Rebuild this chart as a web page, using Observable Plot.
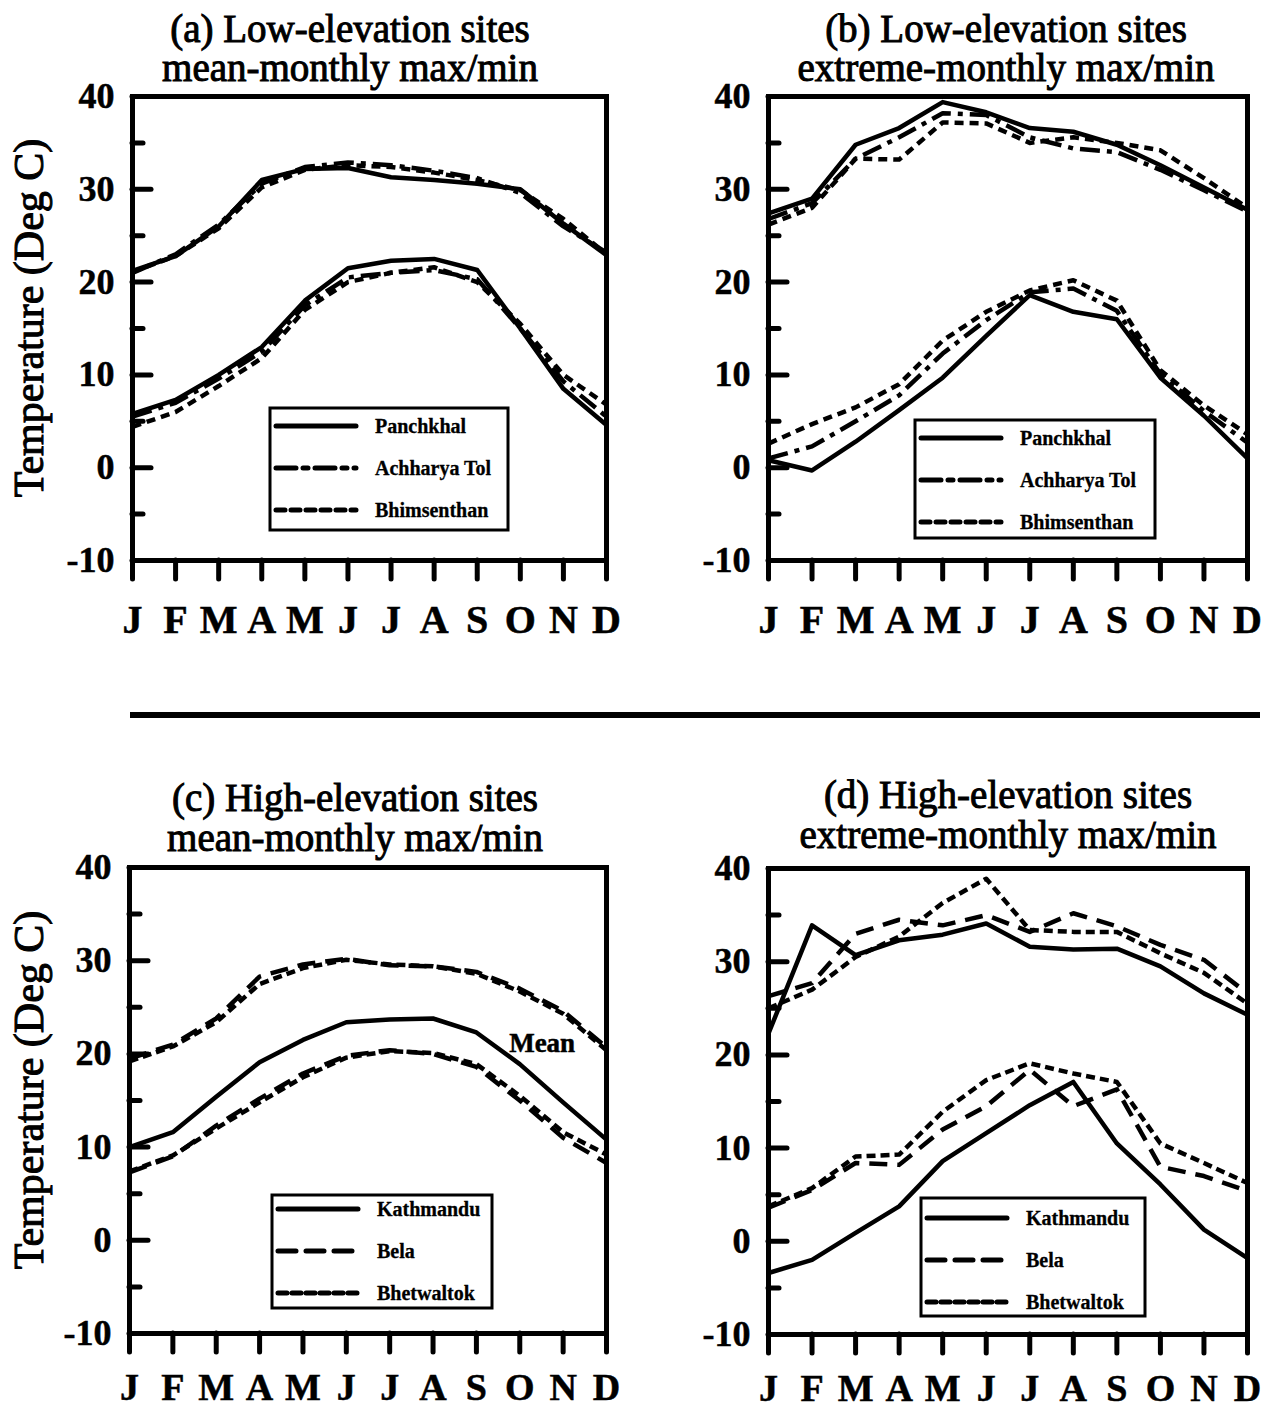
<!DOCTYPE html>
<html>
<head>
<meta charset="utf-8">
<script src="https://cdn.jsdelivr.net/npm/d3@7"></script>
<script src="https://cdn.jsdelivr.net/npm/@observablehq/plot@0.6"></script>
<style>
  html, body { margin: 0; padding: 0; background: #fff; overflow: hidden; }
  #page { position: relative; width: 1266px; height: 1410px; background: #fff;
          font-family: "Liberation Serif", "Times New Roman", serif; }
  .panel { position: absolute; }
  .panel svg { overflow: visible; background: transparent; }
  #page text { stroke: #000; stroke-width: 0.5px; }
  #overlay { position: absolute; left: 0; top: 0; pointer-events: none; }
  #overlay text.title { stroke-width: 1px; }
</style>
</head>
<body>
<div id="page"></div>
<script>
// Month initials along the x axis (index 0 = January)
const months = ["J", "F", "M", "A", "M", "J", "J", "A", "S", "O", "N", "D"];
const yTicksMinor = [-5, 5, 15, 25, 35];
const yTicksMajor = [-10, 0, 10, 20, 30, 40];

// (a) Low-elevation sites, mean-monthly max / min (deg C)
const panchkhalMeanMax   = [21.2, 22.8, 26.0, 31.0, 32.2, 32.3, 31.3, 31.0, 30.6, 30.0, 26.3, 22.9];
const achharyaMeanMax    = [21.0, 23.0, 26.2, 30.6, 32.4, 32.9, 32.6, 32.0, 31.2, 29.6, 26.0, 23.2];
const bhimsenthanMeanMax = [21.1, 22.8, 25.8, 30.2, 32.1, 32.6, 32.4, 31.8, 31.0, 29.9, 26.8, 23.0];
const panchkhalMeanMin   = [5.8, 7.3, 10.0, 13.0, 18.0, 21.5, 22.3, 22.5, 21.3, 15.0, 8.5, 4.6];
const achharyaMeanMin    = [5.5, 7.0, 9.6, 12.5, 17.5, 20.5, 21.0, 21.3, 20.3, 15.0, 9.3, 5.5];
const bhimsenthanMeanMin = [4.4, 6.0, 8.8, 11.8, 17.0, 20.0, 21.0, 21.6, 20.0, 15.5, 10.0, 6.8];

// (b) Low-elevation sites, extreme-monthly max / min (deg C)
const panchkhalExtMax   = [27.4, 29.0, 34.8, 36.6, 39.4, 38.3, 36.6, 36.2, 34.8, 32.6, 30.2, 27.8];
const achharyaExtMax    = [26.8, 28.5, 33.3, 35.6, 38.2, 38.0, 35.6, 34.4, 34.0, 32.1, 29.9, 27.6];
const bhimsenthanExtMax = [26.2, 28.0, 33.3, 33.2, 37.2, 37.1, 35.0, 35.6, 35.0, 34.2, 31.2, 28.0];
const panchkhalExtMin   = [0.8, -0.3, 2.8, 6.2, 9.7, 14.2, 18.6, 16.8, 16.0, 9.7, 5.6, 1.0];
const achharyaExtMin    = [1.0, 2.3, 5.0, 7.8, 12.3, 15.9, 18.9, 19.3, 16.9, 10.1, 6.1, 2.7];
const bhimsenthanExtMin = [2.6, 4.7, 6.5, 9.0, 13.7, 16.8, 19.1, 20.2, 18.0, 10.5, 6.7, 3.6];

// (c) High-elevation sites, mean-monthly max / min (deg C); Kathmandu as a monthly mean
const kathmanduMean     = [10.0, 11.6, 15.4, 19.1, 21.5, 23.4, 23.7, 23.8, 22.3, 18.9, 14.8, 10.8];
const belaMeanMax       = [19.5, 21.0, 23.8, 28.3, 29.6, 30.2, 29.5, 29.4, 28.8, 27.0, 24.6, 20.7];
const bhetwaltokMeanMax = [19.2, 20.8, 23.4, 27.5, 29.2, 30.1, 29.6, 29.4, 28.6, 26.7, 24.3, 20.4];
const belaMeanMin       = [7.3, 9.0, 12.3, 15.2, 17.9, 19.8, 20.4, 20.0, 18.6, 15.0, 11.0, 8.3];
const bhetwaltokMeanMin = [7.4, 9.1, 12.0, 14.8, 17.5, 19.6, 20.3, 20.1, 18.9, 15.5, 11.6, 9.2];

// (d) High-elevation sites, extreme-monthly max / min (deg C)
const kathmanduExtMax  = [22.3, 33.9, 30.7, 32.3, 32.9, 34.1, 31.6, 31.3, 31.4, 29.5, 26.6, 24.3];
const belaExtMax       = [26.3, 27.7, 33.0, 34.5, 33.9, 35.0, 33.2, 35.2, 33.8, 31.8, 30.2, 26.6];
const bhetwaltokExtMax = [25.0, 27.0, 30.5, 32.7, 36.3, 38.9, 33.4, 33.2, 33.2, 30.9, 28.8, 25.5];
const kathmanduExtMin  = [-3.4, -2.0, 0.9, 3.75, 8.6, 11.6, 14.6, 17.1, 10.5, 6.1, 1.25, -1.8];
const belaExtMin       = [3.6, 5.5, 8.4, 8.2, 12.0, 14.5, 18.4, 14.5, 16.3, 8.0, 7.0, 5.4];
const bhetwaltokExtMin = [3.75, 5.7, 9.1, 9.3, 13.9, 17.3, 19.1, 18.0, 17.1, 10.5, 8.4, 6.25];

// Line styles per site
const lowSites  = ["Panchkhal", "Achharya Tol", "Bhimsenthan"];
const highSites = ["Kathmandu", "Bela", "Bhetwaltok"];
const dashes = {
  "Panchkhal": null, "Achharya Tol": "20,7,5,7", "Bhimsenthan": "9,6",
  "Kathmandu": null, "Bela": "18,10", "Bhetwaltok": "9,5"
};

const panels = [
  {
    title: ["(a) Low-elevation sites", "mean-monthly max/min"], titleX: 350, titleY: [42, 81],
    frame: {left: 132, right: 606, top: 96, bottom: 560}, yLabel: true, monthPad: 44, monthSize: 40,
    series: [
      {site: "Achharya Tol", values: achharyaMeanMax}, {site: "Bhimsenthan", values: bhimsenthanMeanMax},
      {site: "Panchkhal", values: panchkhalMeanMax},
      {site: "Achharya Tol", values: achharyaMeanMin}, {site: "Bhimsenthan", values: bhimsenthanMeanMin},
      {site: "Panchkhal", values: panchkhalMeanMin}
    ],
    legend: {sites: lowSites, x: 270, y: 408, w: 238, h: 122, first: 18}
  },
  {
    title: ["(b) Low-elevation sites", "extreme-monthly max/min"], titleX: 1006, titleY: [42, 81],
    frame: {left: 768, right: 1247, top: 96, bottom: 560}, yLabel: false, monthPad: 44, monthSize: 40,
    series: [
      {site: "Achharya Tol", values: achharyaExtMax}, {site: "Bhimsenthan", values: bhimsenthanExtMax},
      {site: "Panchkhal", values: panchkhalExtMax},
      {site: "Achharya Tol", values: achharyaExtMin}, {site: "Bhimsenthan", values: bhimsenthanExtMin},
      {site: "Panchkhal", values: panchkhalExtMin}
    ],
    legend: {sites: lowSites, x: 915, y: 420, w: 240, h: 118, first: 18}
  },
  {
    title: ["(c) High-elevation sites", "mean-monthly max/min"], titleX: 355, titleY: [811, 851],
    frame: {left: 129, right: 606, top: 867, bottom: 1333}, yLabel: true, monthPad: 40, monthSize: 38,
    series: [
      {site: "Bela", values: belaMeanMax}, {site: "Bhetwaltok", values: bhetwaltokMeanMax},
      {site: "Bela", values: belaMeanMin}, {site: "Bhetwaltok", values: bhetwaltokMeanMin},
      {site: "Kathmandu", values: kathmanduMean, note: "Mean"}
    ],
    legend: {sites: highSites, x: 272, y: 1195, w: 220, h: 113, first: 14}
  },
  {
    title: ["(d) High-elevation sites", "extreme-monthly max/min"], titleX: 1008, titleY: [808, 848],
    frame: {left: 768, right: 1247, top: 868, bottom: 1334}, yLabel: false, monthPad: 40, monthSize: 38,
    series: [
      {site: "Bela", values: belaExtMax}, {site: "Bhetwaltok", values: bhetwaltokExtMax},
      {site: "Kathmandu", values: kathmanduExtMax},
      {site: "Bela", values: belaExtMin}, {site: "Bhetwaltok", values: bhetwaltokExtMin},
      {site: "Kathmandu", values: kathmanduExtMin}
    ],
    legend: {sites: highSites, x: 921, y: 1198, w: 224, h: 118, first: 20}
  }
];

const page = document.getElementById("page");
const M = {left: 120, right: 16, top: 20, bottom: 75};

for (const p of panels) {
  const fw = p.frame.right - p.frame.left;
  const fh = p.frame.bottom - p.frame.top;
  const marks = [];
  for (const s of p.series) {
    marks.push(Plot.line(s.values, {
      x: (d, i) => i, y: d => d,
      stroke: "black", strokeWidth: 4.5, strokeDasharray: dashes[s.site],
      strokeLinejoin: "round", strokeLinecap: "butt"
    }));
    if (s.note) {
      marks.push(Plot.text(s.values, {
        filter: (d, i) => i === 10, x: (d, i) => i, y: d => d, text: () => s.note,
        dx: -21, dy: -59, fontSize: 27, fontWeight: "bold", fill: "black"
      }));
    }
  }
  marks.push(
    Plot.axisY(yTicksMinor, {tickSize: -11, strokeWidth: 5, strokeLinecap: "round", text: null, label: null}),
    Plot.axisY(yTicksMajor, {tickSize: -19, strokeWidth: 5, strokeLinecap: "round", text: null, label: null}),
    Plot.axisY(yTicksMajor, {tickSize: 0, tickPadding: 18, fontSize: 36, fontWeight: "bold",
                             tickFormat: d => String(d), label: null}),
    Plot.axisX(d3.range(12), {tickSize: 19, strokeWidth: 5, strokeLinecap: "round", text: null, label: null}),
    Plot.axisX(d3.range(12), {tickSize: 0, tickPadding: p.monthPad, fontSize: p.monthSize, fontWeight: "bold",
                              tickFormat: i => months[i], label: null}),
    Plot.frame({stroke: "black", strokeWidth: 5})
  );
  const chart = Plot.plot({
    width: fw + M.left + M.right,
    height: fh + M.top + M.bottom,
    marginLeft: M.left, marginRight: M.right, marginTop: M.top, marginBottom: M.bottom,
    style: {fontFamily: "Liberation Serif, Times New Roman, serif", background: "transparent", color: "black"},
    x: {domain: [0, 11], axis: null},
    y: {domain: [-10, 40], axis: null},
    marks
  });
  const holder = document.createElement("div");
  holder.className = "panel";
  holder.style.left = (p.frame.left - M.left) + "px";
  holder.style.top = (p.frame.top - M.top) + "px";
  holder.appendChild(chart);
  page.appendChild(holder);
}

// Titles, axis titles, legends and the separator rule
const overlay = d3.select(page).append("svg")
  .attr("id", "overlay").attr("width", 1266).attr("height", 1410);

overlay.append("line")
  .attr("x1", 130).attr("x2", 1260).attr("y1", 715).attr("y2", 715)
  .attr("stroke", "black").attr("stroke-width", 6);

for (const p of panels) {
  p.title.forEach((t, i) => {
    overlay.append("text").attr("class", "title")
      .attr("x", p.titleX).attr("y", p.titleY[i])
      .attr("text-anchor", "middle").attr("font-size", 39)
      .attr("font-family", "Liberation Serif, serif").attr("fill", "black")
      .text(t);
  });
  if (p.yLabel) {
    const cy = (p.frame.top + p.frame.bottom) / 2 - 10;
    overlay.append("text").attr("class", "title")
      .attr("transform", `translate(43,${cy}) rotate(-90)`)
      .attr("text-anchor", "middle").attr("font-size", 42)
      .attr("font-family", "Liberation Serif, serif").attr("fill", "black")
      .text("Temperature (Deg C)");
  }
  const L = p.legend;
  const g = overlay.append("g");
  g.append("rect").attr("x", L.x).attr("y", L.y).attr("width", L.w).attr("height", L.h)
    .attr("fill", "white").attr("stroke", "black").attr("stroke-width", 3);
  L.sites.forEach((site, i) => {
    const yy = L.y + L.first + i * 42;
    g.append("line").attr("x1", L.x + 6).attr("x2", L.x + 86).attr("y1", yy).attr("y2", yy)
      .attr("stroke", "black").attr("stroke-width", 5).attr("stroke-linecap", "round")
      .attr("stroke-dasharray", dashes[site]);
    g.append("text").attr("x", L.x + 105).attr("y", yy + 7)
      .attr("font-size", 20).attr("font-weight", "bold")
      .attr("font-family", "Liberation Serif, serif").attr("fill", "black")
      .style("stroke-width", "0.3px")
      .text(site);
  });
}
</script>
</body>
</html>
